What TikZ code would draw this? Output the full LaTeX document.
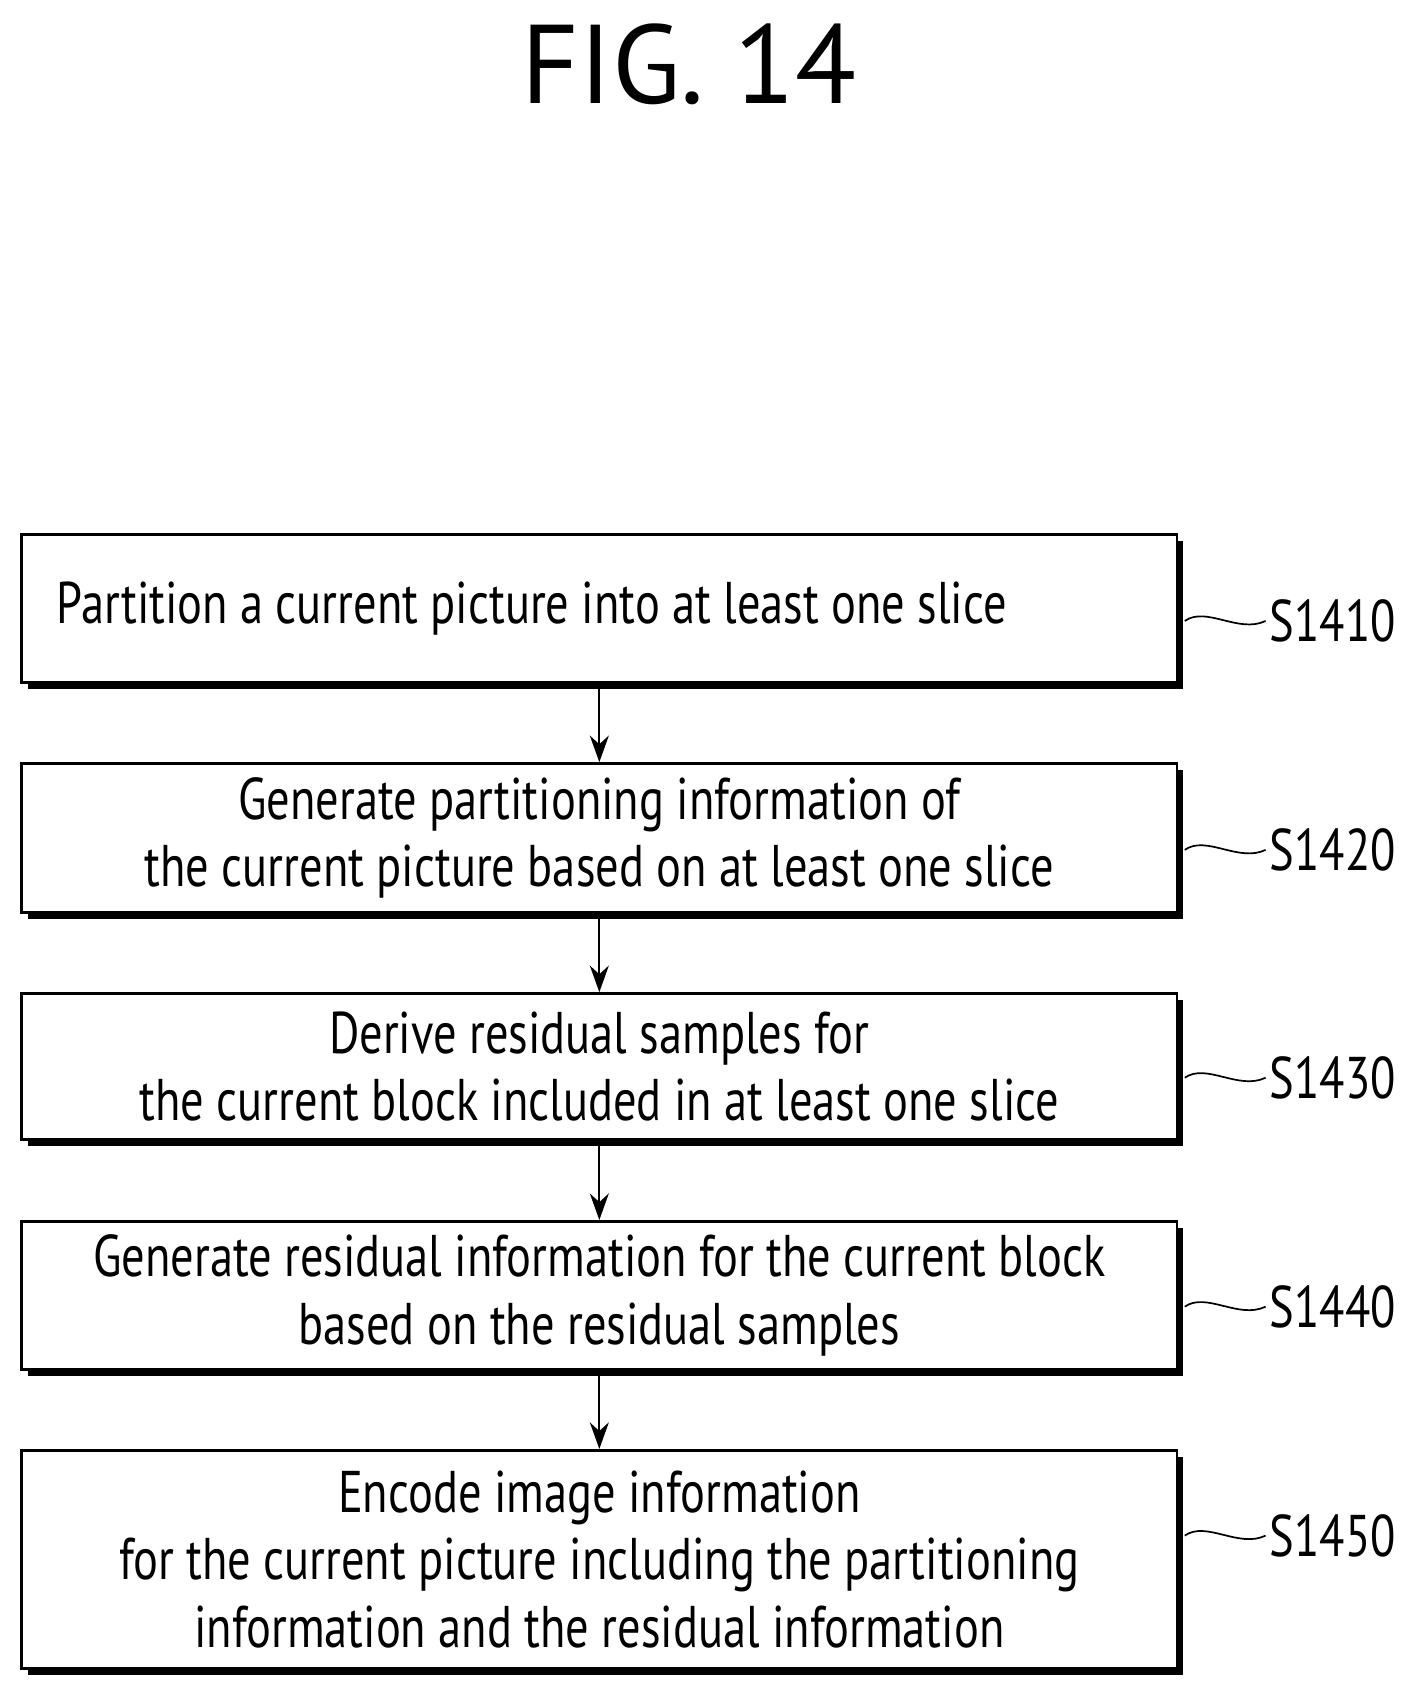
\documentclass[tikz,border=0pt]{standalone}
\usepackage{fontspec}
\setmainfont{PT Sans}[FakeStretch=0.79]
\newfontfamily\titlefont{PT Sans}
\usetikzlibrary{arrows.meta,shadows}

\begin{document}
\begin{tikzpicture}[x=0.02cm, y=-0.02cm,
    stepbox/.style={draw, line width=1.4pt, fill=white, minimum width=21.4cm,
      align=center, font=\fontsize{31}{35.5}\selectfont, inner sep=0pt,
      drop shadow={shadow xshift=0.12cm, shadow yshift=-0.12cm, fill=black, opacity=1}},
    steplabel/.style={font=\fontsize{31}{35}\selectfont, inner sep=2pt},
    flow/.style={-{Stealth[length=14pt,width=10pt]}, line width=1.2pt},
    wave/.style={line width=0.9pt}]
  \useasboundingbox (0,0) rectangle (1300,1565);
  \node[font=\titlefont\fontsize{59}{62}\selectfont] (title) at (638,60) {FIG. 14};
  % boxes
  \node[stepbox, minimum height=2.74cm, text width=20.1cm, align=flush left] (b1) at (555,563.5) {Partition a current picture into at least one slice};
  \node[stepbox, minimum height=2.76cm] (b2) at (555,776) {Generate partitioning information of\\the current picture based on at least one slice};
  \node[stepbox, minimum height=2.70cm] (b3) at (555,987.5) {Derive residual samples for\\the current block included in at least one slice};
  \node[stepbox, minimum height=2.74cm] (b4) at (555,1199.5) {Generate residual information for the current block\\based on the residual samples};
  \node[stepbox, minimum height=4.04cm] (b5) at (555,1444) {Encode image information\\for the current picture including the partitioning\\information and the residual information};
  % labels
  \foreach \n/\y/\t in {1/575/S1410, 2/787/S1420, 3/998/S1430, 4/1210/S1440, 5/1422/S1450}
  {
    \node[steplabel, anchor=west] (l\n) at (1172,\y) {\t};
    \draw[wave] (b\n.east |- l\n.west) ++(6,0) coordinate (w\n)
      .. controls +(20,-14) and +(-25,12) .. (l\n.west);
  }
  % arrows
  \draw[flow] (b1.south) -- (b2.north);
  \draw[flow] (b2.south) -- (b3.north);
  \draw[flow] (b3.south) -- (b4.north);
  \draw[flow] (b4.south) -- (b5.north);
\end{tikzpicture}
\end{document}
